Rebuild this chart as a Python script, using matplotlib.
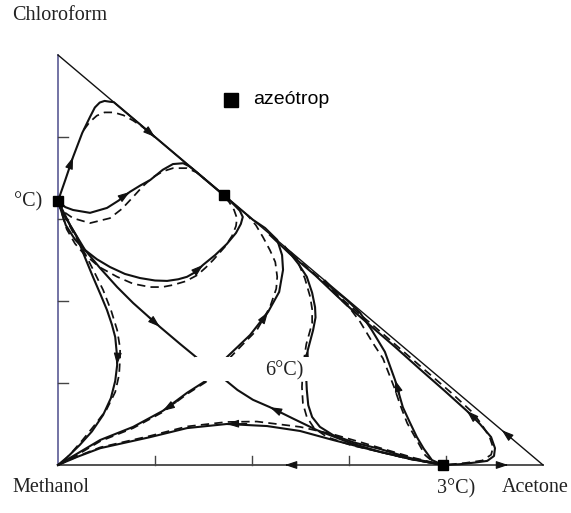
import matplotlib
matplotlib.use("Agg")
import matplotlib.pyplot as plt
from matplotlib.patches import Rectangle

# Composition coordinates in mol %: (acetone, chloroform); methanol = remainder.
edge_ticks = [20, 40, 60, 80]

azeo_acetone = [0.0, 34.2, 79.4]
azeo_chloroform = [64.4, 65.8, 0.0]

# residue curves (solid) and distillation lines (dashed)
top_solid = [(0, 64.4), (1.5, 69.5), (3.1, 75.1), (5.0, 81.0), (6.6, 84.9), (7.6, 87.2),
             (8.6, 88.4), (9.6, 88.8), (10.7, 88.6), (11.5, 88.5), (20, 80), (34.2, 65.8)]
top_dash = [(5.3, 81.7), (6.5, 83.6), (8.0, 85.2), (9.6, 86.0), (11.5, 86.0), (13.5, 85.3),
            (15.5, 84.0), (17.5, 82.4), (20, 79.9)]

upper_solid = [(0, 64.4), (1.5, 62.9), (3.1, 62.2), (6.6, 61.5), (10.1, 62.7), (12.5, 64.5),
               (14.8, 66.6), (17.0, 68.2), (19.0, 69.5), (21.6, 72.0), (23.7, 73.4),
               (25.8, 73.6), (27.0, 72.9), (27.8, 72.2), (34.2, 65.8)]
upper_dash = [(0, 64.4), (1.5, 61.5), (3.1, 60.2), (6.6, 59.0), (10.7, 60.2), (13.2, 62.5),
              (15.5, 65.4), (17.5, 68.0), (19.6, 70.2), (21.6, 71.6), (23.7, 72.4),
              (26.6, 72.4), (28.7, 71.3), (30.2, 69.8)]

loop_solid = [(0, 64.4), (1.6, 58.5), (3.5, 55.0), (5.5, 52.5), (8.0, 50.2), (10.7, 48.3),
              (13.8, 46.6), (16.9, 45.6), (20.0, 45.0), (22.5, 44.9), (24.8, 45.3), (26.6, 45.9),
              (28.4, 47.1), (29.9, 48.8), (32.4, 51.2), (34.8, 53.9), (36.7, 56.6), (37.7, 58.8),
              (38.1, 60.5), (37.5, 62.0), (36.7, 63.0), (35.5, 64.4), (34.2, 65.8)]
loop_dash = [(0, 64.4), (1.8, 57.5), (3.5, 54.0), (5.2, 51.7), (8.5, 48.3), (12.2, 45.9),
             (15.5, 44.2), (19.0, 43.4), (21.5, 43.4), (23.7, 43.9), (26.3, 44.8), (28.7, 46.3),
             (30.5, 48.2), (32.0, 50.0), (34.4, 53.2), (35.9, 55.9), (36.7, 58.3), (36.9, 60.2),
             (36.3, 62.2), (35.3, 64.1), (34.2, 65.6)]

left_solid = [(0, 64.4), (0.4, 62.9), (2.0, 59.5), (3.9, 55.6), (5.6, 50.5), (7.2, 45.9),
              (8.8, 41.5), (10.1, 37.8), (11.1, 34.3), (11.8, 31.2), (12.1, 27.5), (12.2, 24.4),
              (11.8, 20.5), (10.9, 16.3), (9.3, 12.2), (7.0, 8.2), (4.5, 4.9), (2.0, 2.0), (0, 0)]
left_dash = [(0, 64.4), (1.0, 61.5), (3.0, 57.0), (5.2, 52.4), (7.3, 47.5), (9.3, 42.7),
             (11.0, 37.5), (12.2, 32.9), (12.8, 28.5), (12.8, 26.1), (12.6, 22.0), (11.8, 17.8),
             (10.0, 13.5), (7.6, 9.8), (5.0, 6.0), (2.5, 2.6), (0.8, 0.6), (0, 0)]

# separatrices through the ternary saddle
sep_a = [(0, 64.4), (2.5, 58.5), (5.6, 52.4), (8.7, 48.0), (12.2, 43.4), (15.5, 39.5),
         (21.0, 33.7), (25.2, 29.5), (28.7, 26.1), (31.4, 23.9), (34.0, 21.2), (37.0, 18.3),
         (40.2, 15.9), (43.7, 14.1), (48.5, 11.3), (53.4, 8.5), (60.2, 5.4), (66.4, 3.2),
         (72.6, 1.5), (79.4, 0)]
sep_b_solid = [(0, 0), (4.0, 2.8), (8.7, 6.1), (15.5, 9.3), (21.6, 13.2), (26.6, 17.6),
               (30.7, 20.7), (32.8, 23.4), (34.8, 26.3), (37.2, 29.0), (39.6, 31.7), (43.3, 37.3),
               (45.6, 42.2), (46.4, 47.6), (46.2, 51.2), (45.2, 54.9), (42.7, 57.8), (40.2, 59.8),
               (37.2, 62.8), (34.2, 65.8)]
sep_b_dash = [(0, 0), (4.0, 2.5), (8.7, 5.8), (15.5, 9.0), (21.6, 12.9), (26.6, 17.3),
              (30.7, 20.4), (34.5, 25.0), (38.0, 29.3), (41.0, 32.9), (43.7, 38.5), (45.0, 43.0),
              (45.2, 45.9), (44.8, 49.5), (43.7, 52.4), (42.3, 55.5), (40.8, 58.5), (39.0, 61.0)]

bottom_solid = [(0, 0), (4.0, 2.0), (8.7, 4.1), (19.0, 6.8), (26.6, 9.0), (34.8, 10.0),
                (43.1, 9.5), (49.9, 8.3), (56.7, 6.1), (62.3, 4.4), (66.4, 3.2), (72.6, 1.5),
                (79.4, 0)]
bottom_dash = [(0, 0), (4.0, 2.1), (8.7, 4.3), (19.0, 7.1), (26.6, 9.4), (34.8, 10.5),
               (41.0, 10.6), (49.9, 9.3), (56.7, 7.5), (62.3, 5.6), (68.0, 3.6), (73.5, 1.7),
               (79.4, 0)]

mid_solid = [(79.4, 0), (72.6, 1.7), (66.4, 3.9), (61.0, 5.5), (56.7, 7.3), (54.0, 9.3),
             (52.4, 11.7), (51.6, 14.6), (51.3, 18.3), (51.1, 23.2), (51.5, 28.0), (52.6, 32.9),
             (53.1, 36.0), (53.0, 38.5), (52.4, 42.0), (51.3, 45.9), (49.6, 49.0), (47.8, 51.7),
             (46.8, 53.2)]
mid_dash = [(79.4, 0), (72.6, 1.4), (66.4, 3.2), (60.5, 4.8), (55.5, 6.8), (52.8, 9.0),
            (51.3, 11.7), (50.5, 15.0), (50.3, 19.0), (50.5, 24.0), (51.2, 29.5), (52.4, 34.6),
            (52.4, 38.0), (52.0, 41.0), (50.9, 45.5), (49.3, 50.0), (47.8, 52.2)]

right_solid = [(79.4, 0), (77.1, 1.2), (75.4, 4.0), (74.0, 6.8), (72.5, 10.5), (71.1, 14.1),
               (69.5, 20.7), (67.4, 27.6), (64.7, 32.9), (62.3, 37.1), (59.6, 40.2),
               (56.7, 42.9), (55.1, 44.9)]
right_dash = [(79.4, 0), (77.3, 0.8), (75.7, 2.4), (74.0, 6.0), (72.0, 10.2), (70.6, 14.5),
              (69.3, 19.0), (67.0, 26.0), (64.9, 29.8), (62.3, 34.9), (60.2, 38.2), (58.1, 40.6),
              (56.0, 43.2), (54.5, 45.5)]

hook_solid = [(79.4, 0), (82.9, 0.2), (86.0, 0.6), (88.5, 1.0), (89.9, 2.2), (90.1, 4.1),
              (89.3, 6.8), (87.0, 10.0), (84.3, 13.2), (79.8, 18.0), (74.6, 23.4), (69.5, 28.8),
              (64.3, 34.1), (60.2, 38.3), (57.1, 41.7), (53.0, 46.3), (47.8, 51.5), (43.7, 56.1)]
hook_dash = [(80.5, 0.1), (84.0, 0.5), (87.5, 1.1), (89.3, 2.5), (89.7, 4.3), (89.0, 6.8),
             (87.4, 9.8), (85.5, 12.8), (81.0, 17.7), (75.8, 23.0), (70.6, 28.3), (65.5, 33.5),
             (61.2, 37.8), (57.8, 41.3), (53.8, 45.7), (48.6, 51.0)]

W, H = 571, 513
fig = plt.figure(figsize=(W / 100, H / 100), dpi=100)
ax = fig.add_axes([58 / W, 1 - 465 / H, 485 / W, 410 / H])
ax.set_xlim(0, 100)
ax.set_ylim(0, 100)
ax.axis("off")

INK = "#111111"

# triangle edges
ax.plot([0, 0], [0, 100], color="#4d4d8c", lw=1.1, clip_on=False, zorder=2)
ax.plot([0, 100], [0, 0], color="#333333", lw=1.2, clip_on=False, zorder=2)
ax.plot([0, 100], [100, 0], color=INK, lw=1.0, clip_on=False, zorder=2)
for t in edge_ticks:
    ax.plot([0, 2.1], [t, t], color="#444444", lw=1.0, clip_on=False, zorder=2)
    ax.plot([t, t], [0, 2.2], color="#444444", lw=1.0, clip_on=False, zorder=2)


def draw(pts, dashed=False):
    xs = [p[0] for p in pts]
    ys = [p[1] for p in pts]
    if dashed:
        ax.plot(xs, ys, color=INK, lw=1.25, linestyle=(0, (4.8, 3.0)),
                dash_capstyle="butt", clip_on=False, zorder=3)
    else:
        ax.plot(xs, ys, color=INK, lw=1.5, solid_joinstyle="round",
                clip_on=False, zorder=3)


for c in [top_solid, upper_solid, loop_solid, left_solid, sep_a, sep_b_solid,
          bottom_solid, mid_solid, right_solid, hook_solid]:
    draw(c)
for c in [top_dash, upper_dash, loop_dash, left_dash, sep_b_dash, bottom_dash,
          mid_dash, right_dash, hook_dash]:
    draw(c, dashed=True)


def head(pts, i, reverse=False):
    (xa, ya), (xb, yb) = pts[i - 1], pts[i + 1]
    if reverse:
        xa, ya, xb, yb = xb, yb, xa, ya
    tip = pts[i]
    tail = (tip[0] - 0.25 * (xb - xa), tip[1] - 0.25 * (yb - ya))
    ax.annotate("", xy=tip, xytext=tail, zorder=4,
                arrowprops=dict(arrowstyle="-|>,head_length=0.6,head_width=0.2",
                                mutation_scale=12, color=INK, lw=0.8,
                                shrinkA=0, shrinkB=0))


head(top_solid, 2)
head(top_solid, 10)
head(upper_solid, 6)
head(loop_solid, 13)
head(left_solid, 11)
head(sep_a, 6)
head(sep_a, 13, reverse=True)
head(sep_b_solid, 4, reverse=True)
head(sep_b_solid, 11)
head(bottom_solid, 5, reverse=True)
head(mid_solid, 10)
head(right_solid, 6)
head(hook_solid, 8)

# arrows on the binary edges
head([(93.0, 7.0), (91.5, 8.5), (90.0, 10.0)], 1)
head([(48.0, 0), (46.8, 0), (45.6, 0)], 1)
head([(91.6, 0), (92.8, 0), (94.0, 0)], 1)

# label box around the ternary saddle
ax.add_patch(Rectangle((28.2, 20.5), 23.8, 5.8, facecolor="white", edgecolor="none",
                       zorder=5, clip_on=False))

ax.plot(azeo_acetone, azeo_chloroform, linestyle="none", marker="s", markersize=7.8,
        color="black", clip_on=False, zorder=6)

serif = dict(family="Liberation Serif", size=14.5, color="#222222", va="center")


def ftext(x, y, s, ha="left", **kw):
    fig.text(x / W, 1 - y / H, s, ha=ha, **kw)


ftext(12, 16, "Chloroform", **serif)
ftext(12, 488, "Methanol", **serif)
ftext(502, 488, "Acetone", **serif)
ftext(42, 202, "°C)", ha="right", **serif)
ftext(303, 371, "6°C)", ha="right", zorder=7, **serif)
ftext(475, 489, "3°C)", ha="right", **serif)

# legend
fig.lines.append(plt.Line2D([231 / W], [1 - 100 / H], transform=fig.transFigure,
                            marker="s", markersize=10.5, color="black", linestyle="none"))
ftext(253, 100, "azeótrop", family="Liberation Sans", size=14, color="black", va="center")

fig.savefig("out.png", dpi=100, facecolor="white")
